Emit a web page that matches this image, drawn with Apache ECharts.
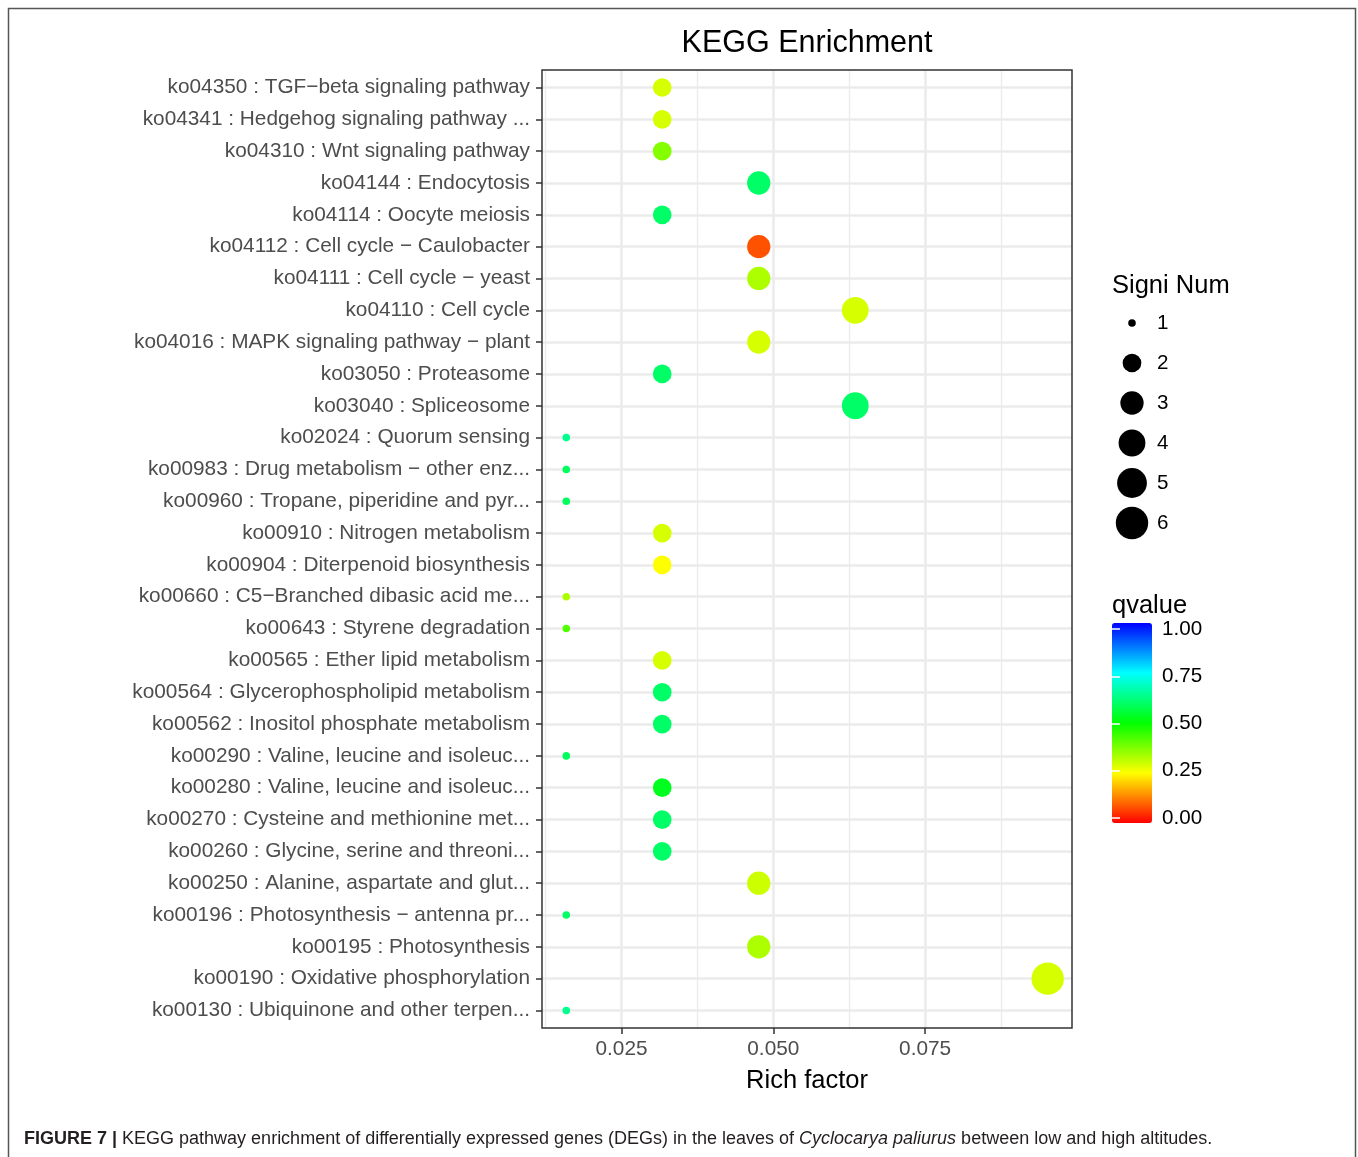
<!DOCTYPE html>
<html><head><meta charset="utf-8">
<script src="https://cdn.jsdelivr.net/npm/echarts@6/dist/echarts.min.js"></script>
<style>html,body{margin:0;padding:0;background:#fff;}#main{width:1358px;height:1157px;}</style>
</head><body><div id="main"></div>
<script>
const categories = [
  'ko04350 : TGF\u2212beta signaling pathway',
  'ko04341 : Hedgehog signaling pathway ...',
  'ko04310 : Wnt signaling pathway',
  'ko04144 : Endocytosis',
  'ko04114 : Oocyte meiosis',
  'ko04112 : Cell cycle \u2212 Caulobacter',
  'ko04111 : Cell cycle \u2212 yeast',
  'ko04110 : Cell cycle',
  'ko04016 : MAPK signaling pathway \u2212 plant',
  'ko03050 : Proteasome',
  'ko03040 : Spliceosome',
  'ko02024 : Quorum sensing',
  'ko00983 : Drug metabolism \u2212 other enz...',
  'ko00960 : Tropane, piperidine and pyr...',
  'ko00910 : Nitrogen metabolism',
  'ko00904 : Diterpenoid biosynthesis',
  'ko00660 : C5\u2212Branched dibasic acid me...',
  'ko00643 : Styrene degradation',
  'ko00565 : Ether lipid metabolism',
  'ko00564 : Glycerophospholipid metabolism',
  'ko00562 : Inositol phosphate metabolism',
  'ko00290 : Valine, leucine and isoleuc...',
  'ko00280 : Valine, leucine and isoleuc...',
  'ko00270 : Cysteine and methionine met...',
  'ko00260 : Glycine, serine and threoni...',
  'ko00250 : Alanine, aspartate and glut...',
  'ko00196 : Photosynthesis \u2212 antenna pr...',
  'ko00195 : Photosynthesis',
  'ko00190 : Oxidative phosphorylation',
  'ko00130 : Ubiquinone and other terpen...'
];
const richFactor = [0.0317,0.0317,0.0317,0.0476,0.0317,0.0476,0.0476,0.0635,0.0476,0.0317,
                    0.0635,0.0159,0.0159,0.0159,0.0317,0.0317,0.0159,0.0159,0.0317,0.0317,
                    0.0317,0.0159,0.0317,0.0317,0.0317,0.0476,0.0159,0.0476,0.0952,0.0159];
const signiNum = [2,2,2,3,2,3,3,4,3,2,
                  4,1,1,1,2,2,1,1,2,2,
                  2,1,2,2,2,3,1,3,6,1];
const qvalue = [0.29,0.29,0.37,0.60,0.60,0.08,0.33,0.29,0.29,0.60,
                0.60,0.64,0.59,0.59,0.29,0.25,0.33,0.42,0.29,0.60,
                0.60,0.59,0.53,0.60,0.60,0.30,0.60,0.33,0.29,0.64];
const xTicks = [0.025, 0.050, 0.075];
const xMinorTicks = [0.0125, 0.0375, 0.0625, 0.0875];
const sizeLegendValues = [1,2,3,4,5,6];
const qColors = ['#ff0000','#ffff00','#00ff00','#00ffff','#0000ff'];

const FONT = '"Liberation Sans", Arial, Helvetica, sans-serif';
function dia(n){ return 7.6 + 24.8*Math.sqrt((n-1)/5); }

const rowIdx = categories.map((c,i)=>i+1);
const mainData = categories.map((c,i)=>[richFactor[i], i+1, qvalue[i], signiNum[i]]);
const legendData = sizeLegendValues.map((v,i)=>[0, i, v]);

const chart = echarts.init(document.getElementById('main'), null, {renderer:'canvas'});
chart.setOption({
  animation:false,
  textStyle:{fontFamily:FONT},
  title:[
    {text:'Signi Num', left:1112, top:273, padding:0, textStyle:{fontFamily:FONT,fontSize:25.5,fontWeight:'normal',color:'#000'}},
    {text:'qvalue', left:1112, top:593, padding:0, textStyle:{fontFamily:FONT,fontSize:25.5,fontWeight:'normal',color:'#000'}}
  ],
  grid:[
    {left:542, top:70, width:530, height:958, show:true, z:3, backgroundColor:'transparent', borderColor:'#333333', borderWidth:1.5, containLabel:false, outerBoundsMode:'none'},
    {left:1112, top:303, width:40, height:240, containLabel:false, outerBoundsMode:'none'},
    {left:1112, top:629, width:40, height:189, containLabel:false, outerBoundsMode:'none'}
  ],
  xAxis:[
    {type:'value', gridIndex:0, min:0.0119, max:0.0992,
     axisLine:{show:false},
     axisTick:{show:true, customValues:xTicks, length:6, lineStyle:{color:'#333333', width:1.5}},
     axisLabel:{customValues:xTicks, formatter:v=>v.toFixed(3), color:'#4d4d4d', fontSize:20.8, margin:11, fontFamily:FONT},
     splitLine:{show:true, lineStyle:{color:'#ebebeb', width:2.5}},
     name:'Rich factor', nameLocation:'middle', nameGap:40,
     nameTextStyle:{fontSize:25.5, color:'#000', fontFamily:FONT}},
    {type:'value', gridIndex:0, position:'top', min:0.0119, max:0.0992,
     axisLine:{show:false},
     axisTick:{show:false, customValues:xMinorTicks},
     axisLabel:{show:false, customValues:xMinorTicks},
     splitLine:{show:true, lineStyle:{color:'#ebebeb', width:1.3}},
     name:'KEGG Enrichment', nameLocation:'middle', nameGap:11,
     nameTextStyle:{fontSize:30.5, color:'#000', fontFamily:FONT}},
    {type:'value', gridIndex:1, min:-1, max:1, show:false},
    {type:'value', gridIndex:2, min:0, max:1, show:false}
  ],
  yAxis:[
    {type:'value', gridIndex:0, min:0.45, max:30.55, inverse:true,
     axisLine:{show:false},
     axisTick:{show:true, customValues:rowIdx, length:6, lineStyle:{color:'#333333', width:1.5}},
     axisLabel:{customValues:rowIdx, formatter:v=>categories[Math.round(v)-1]||'', color:'#4d4d4d', fontSize:20.8, margin:12, fontFamily:FONT},
     splitLine:{show:true, lineStyle:{color:'#ebebeb', width:2.5}}},
    {type:'category', gridIndex:1, data:sizeLegendValues.map(String), inverse:true, position:'right',
     axisLine:{show:false}, axisTick:{show:false}, splitLine:{show:false},
     axisLabel:{color:'#000', fontSize:20.6, margin:5, fontFamily:FONT}},
    {type:'value', gridIndex:2, min:0, max:1, interval:0.25, position:'right', z:10,
     axisLine:{show:false}, splitLine:{show:false},
     axisTick:{show:true, inside:true, length:8, lineStyle:{color:'#ffffff', width:1.5}},
     axisLabel:{formatter:v=>v.toFixed(2), color:'#000', fontSize:20.6, margin:10, fontFamily:FONT}},
    {type:'value', gridIndex:2, min:0, max:1, interval:0.25, position:'left', z:10,
     axisLine:{show:false}, splitLine:{show:false},
     axisTick:{show:true, inside:true, length:8, lineStyle:{color:'#ffffff', width:1.5}},
     axisLabel:{show:false}}
  ],
  visualMap:[{
    type:'continuous', seriesIndex:0, dimension:2, min:0, max:1,
    inRange:{color:qColors},
    left:1112, top:623, itemWidth:40, itemHeight:200, padding:0,
    calculable:false, text:null, hoverLink:false, realtime:false
  }],
  series:[
    {type:'scatter', xAxisIndex:0, yAxisIndex:0, data:mainData, z:2,
     symbol:'circle', symbolSize:v=>dia(v[3]), itemStyle:{opacity:1, borderWidth:0}},
    {type:'scatter', xAxisIndex:2, yAxisIndex:1, data:legendData,
     symbol:'circle', symbolSize:v=>dia(v[2]), itemStyle:{color:'#000', opacity:1}}
  ],
  graphic:[
    {type:'rect', silent:true, shape:{x:8.5, y:8.5, width:1347, height:1170},
     style:{fill:'none', stroke:'#555555', lineWidth:1.5}},
    {type:'text', silent:true, x:24, y:1139,
     style:{text:'{b|FIGURE 7 |} KEGG pathway enrichment of differentially expressed genes (DEGs) in the leaves of {i|Cyclocarya paliurus} between low and high altitudes.',
       font:'18px '+FONT, fill:'#231f20', verticalAlign:'middle',
       rich:{b:{fontWeight:'bold', fontSize:18, fontFamily:FONT, fill:'#231f20'},
             i:{fontStyle:'italic', fontSize:18, fontFamily:FONT, fill:'#231f20'}}}}
  ]
});
</script></body></html>
